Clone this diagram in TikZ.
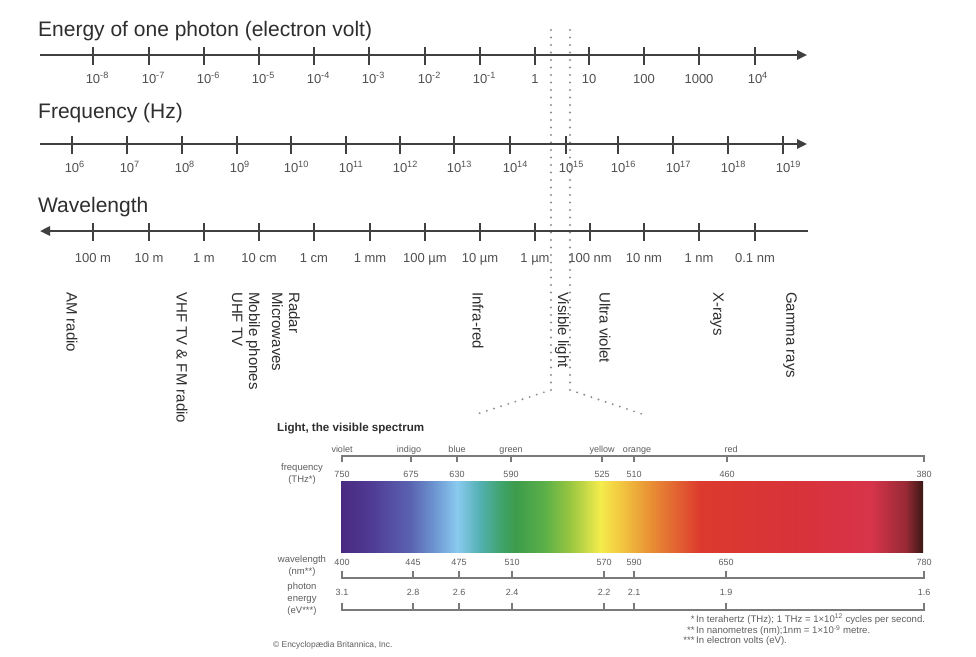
\documentclass[tikz,border=0pt]{standalone}
\usepackage{fontspec}
\setmainfont{Liberation Sans}
\usetikzlibrary{arrows.meta}
\definecolor{axisc}{HTML}{404040}
\definecolor{txtc}{HTML}{2E2E2E}
\definecolor{lblc}{HTML}{505050}
\definecolor{stxt}{HTML}{5E5E5E}
\definecolor{dotc}{HTML}{8E8E8E}
\definecolor{brc}{HTML}{7A7A7A}
\definecolor{s01}{HTML}{4A2A80}
\definecolor{s02}{HTML}{4F3A94}
\definecolor{s03}{HTML}{5A62B0}
\definecolor{s04}{HTML}{6E98D2}
\definecolor{s05}{HTML}{8ACAF0}
\definecolor{s06}{HTML}{52B0B0}
\definecolor{s07}{HTML}{40A46E}
\definecolor{s08}{HTML}{3C9C4C}
\definecolor{s09}{HTML}{5CB048}
\definecolor{s10}{HTML}{98C640}
\definecolor{s11}{HTML}{F4EC4C}
\definecolor{s12}{HTML}{F2C840}
\definecolor{s13}{HTML}{E88A34}
\definecolor{s14}{HTML}{DC3A2E}
\definecolor{s15}{HTML}{D8323A}
\definecolor{s16}{HTML}{D8344A}
\definecolor{s17}{HTML}{9A2A36}
\definecolor{s18}{HTML}{3A1814}
\pgfdeclarehorizontalshading{visspec}{100bp}{%
color(0bp)=(s01); color(25bp)=(s01); color(27.5bp)=(s02); color(30.9bp)=(s03);
color(33.1bp)=(s04); color(34.97bp)=(s05); color(36.94bp)=(s06); color(38.66bp)=(s07);
color(39.95bp)=(s08); color(42.53bp)=(s09); color(44.67bp)=(s10); color(47.25bp)=(s11);
color(48.97bp)=(s12); color(51.8bp)=(s13); color(55.84bp)=(s14); color(64.43bp)=(s15);
color(70.45bp)=(s16); color(73.45bp)=(s17); color(75bp)=(s18); color(100bp)=(s18)}
\tikzset{
  axisline/.style={line width=2.4pt, draw=axisc},
  tickmark/.style={line width=1.8pt, draw=axisc},
  titletxt/.style={font=\fontsize{21}{24}\selectfont, text=txtc, anchor=base west, inner sep=0pt},
  ticklbl/.style={font=\fontsize{13}{15}\selectfont, text=lblc, anchor=base, inner sep=0pt},
  bandlbl/.style={font=\fontsize{15}{17}\selectfont, text=txtc, rotate=-90, anchor=west, inner sep=0pt, align=left},
  dotline/.style={draw=dotc, line width=2.1pt, line cap=round, dash pattern=on 0pt off 7.5pt},
  speclbl/.style={font=\fontsize{9}{10}\selectfont, text=stxt, anchor=base, inner sep=0pt},
  sidelbl/.style={font=\fontsize{9.5}{12}\selectfont, text=stxt, anchor=north, inner sep=0pt, align=center},
  bracket/.style={draw=brc, line width=1.1pt},
  notetxt/.style={font=\fontsize{9.6}{10}\selectfont, text=stxt, anchor=north west, inner sep=0pt, align=left},
  arrtip/.style={-{Triangle[length=10pt,width=9pt]}}
}
\begin{document}
\begin{tikzpicture}[x=1pt,y=-1pt]
\useasboundingbox[fill=white] (0,0) rectangle (976,656);

% ---------- dotted guide lines ----------
\coordinate (dlt) at (551,30);
\coordinate (dlb) at (551,390);
\coordinate (drt) at (570,30);
\coordinate (drb) at (570,390);
\coordinate (dle) at (477,414);
\coordinate (dre) at (645,415);
\draw[dotline] (dlt) -- (dlb) -- (dle);
\draw[dotline] (drt) -- (drb) -- (dre);

% ---------- energy axis ----------
\node[titletxt] (tenergy) at (38,36) {Energy of one photon (electron volt)};
\coordinate (ea) at (40,55);
\coordinate (eb) at (807,55);
\draw[axisline, arrtip] (ea) -- (eb);
\foreach \x [count=\i] in {93,149,204,259,314,369,425,480,535,589,644,699,755}
  \draw[tickmark] (\x,47) -- (\x,65);
\foreach \x/\s [count=\i] in {93/-8,149/-7,204/-6,259/-5,314/-4,369/-3,425/-2,480/-1,755/4}
  \node[ticklbl] (el\i) at (\x,83) {10\rlap{\textsuperscript{\s}}};
\node[ticklbl] (el10) at (535,83) {1};
\node[ticklbl] (el11) at (589,83) {10};
\node[ticklbl] (el12) at (644,83) {100};
\node[ticklbl] (el13) at (699,83) {1000};

% ---------- frequency axis ----------
\node[titletxt] (tfreq) at (38,118) {Frequency (Hz)};
\coordinate (fa) at (40,144);
\coordinate (fb) at (807,144);
\draw[axisline, arrtip] (fa) -- (fb);
\foreach \x/\s [count=\i] in {72/6,127/7,182/8,237/9,291/10,346/11,400/12,454/13,510/14,566/15,618/16,673/17,728/18,783/19}{
  \draw[tickmark] (\x,136) -- (\x,154);
  \node[ticklbl] (fl\i) at (\x,172) {10\rlap{\textsuperscript{\s}}};
}

% ---------- wavelength axis ----------
\node[titletxt] (twave) at (38,212) {Wavelength};
\coordinate (wa) at (808,231);
\coordinate (wb) at (40,231);
\draw[axisline, arrtip] (wa) -- (wb);
\foreach \x/\l [count=\i] in {93/100 m,149/10 m,204/1 m,259/10 cm,314/1 cm,370/1 mm,425/100 µm,480/10 µm,535/1 µm,590/100 nm,644/10 nm,699/1 nm,755/0.1 nm}{
  \draw[tickmark] (\x,223) -- (\x,241);
  \node[ticklbl] (wl\i) at (\x,262) {\l};
}

% ---------- band labels ----------
\node[bandlbl] (am) at (72,292) {AM radio};
\node[bandlbl] (vhf) at (182,292) {VHF TV \& FM radio};
\node[bandlbl] (mob) at (246,292) {Mobile phones\\UHF TV};
\node[bandlbl] (rad) at (286,292) {Radar\\Microwaves};
\node[bandlbl] (ir) at (478,292) {Infra-red};
\node[bandlbl] (vis) at (562,292) {Visible light};
\node[bandlbl] (uv) at (605,292) {Ultra violet};
\node[bandlbl] (xr) at (717,292) {X-rays};
\node[bandlbl] (gam) at (790,292) {Gamma rays};

% ---------- visible spectrum panel ----------
\node[font=\fontsize{11.6}{13}\selectfont\bfseries, text=txtc, anchor=base west, inner sep=0pt] (vtitle) at (277,431) {Light, the visible spectrum};

% colour names and frequency bracket
\coordinate (tbl) at (342,462);
\coordinate (tbr) at (924,462);
\draw[bracket] (tbl) -- (342,456) -- (924,456) -- (tbr);
\foreach \x/\c/\f [count=\i] in {342/violet/750,411/indigo/675,457/blue/630,511/green/590,602/yellow/525,634/orange/510,727/red/460,924//380}{
  \draw[bracket] (\x,456) -- (\x,462);
  \node[speclbl] (f\i) at (\x,477) {\f};
}
\node[speclbl] (cviolet) at (342,452) {violet};
\node[speclbl] (cindigo) at (409,452) {indigo};
\node[speclbl] (cblue) at (457,452) {blue};
\node[speclbl] (cgreen) at (511,452) {green};
\node[speclbl] (cyellow) at (602,452) {yellow};
\node[speclbl] (corange) at (637,452) {orange};
\node[speclbl] (cred) at (731,452) {red};
\node[sidelbl] (sfreq) at (302,463) {frequency\\(THz*)};

% spectrum bar
\node[inner sep=0pt, minimum width=582pt, minimum height=71pt, shading=visspec, anchor=north west] (bar) at (341,481) {};

% wavelength bracket
\draw[bracket] (342,571) -- (342,578) -- (924,578) -- (924,571);
\foreach \x/\w/\e [count=\i] in {342/400/3.1,413/445/2.8,459/475/2.6,512/510/2.4,604/570/2.2,634/590/2.1,726/650/1.9,924/780/1.6}{
  \draw[bracket] (\x,571) -- (\x,578);
  \node[speclbl] (w\i) at (\x,565) {\w};
  \draw[bracket] (\x,603) -- (\x,610);
  \node[speclbl] (p\i) at (\x,595) {\e};
}
\draw[bracket] (342,603) -- (342,610) -- (924,610) -- (924,603);
\node[sidelbl] (swave) at (302,555) {wavelength\\(nm**)};
\node[sidelbl] (senergy) at (302,582) {photon\\energy\\(eV***)};

% footnotes
\node[notetxt] (notes) at (696,614) {\llap{*\,}In terahertz (THz); 1 THz = 1×10\textsuperscript{12} cycles per second.\\
\llap{**\,}In nanometres (nm);1nm = 1×10\textsuperscript{-9} metre.\\
\llap{***\,}In electron volts (eV).};
\node[font=\fontsize{8.4}{9}\selectfont, text=stxt, anchor=base west, inner sep=0pt] (copy) at (273,647) {© Encyclopædia Britannica, Inc.};
\end{tikzpicture}
\end{document}
